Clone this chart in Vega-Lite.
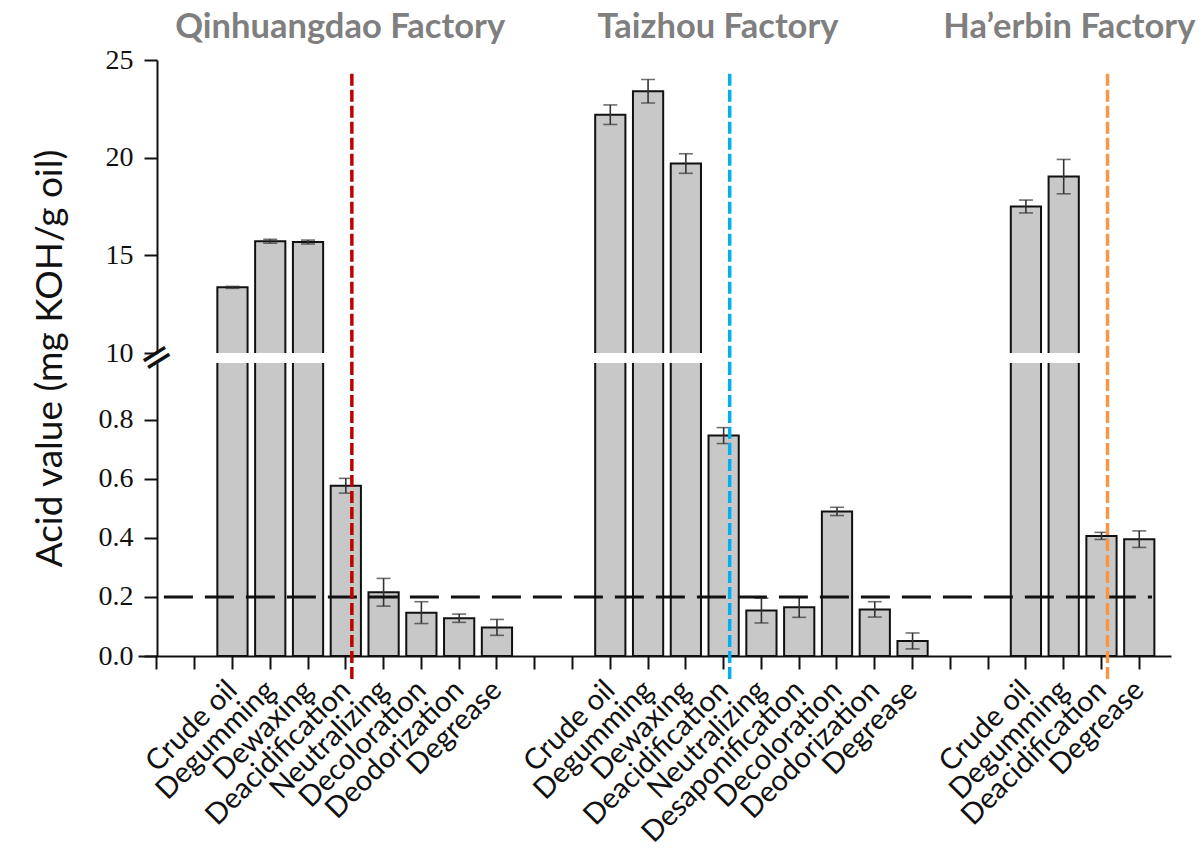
{
  "$schema": "https://vega.github.io/schema/vega-lite/v6.json",
  "padding": {"left": 30, "top": 9, "right": 5, "bottom": 5},
  "background": "white",
  "spacing": 10,
  "bounds": "flush",
  "config": {"view": {"stroke": null}, "font": "Lato"},
  "datasets": {
    "acid": [
      {"factory": "Qinhuangdao", "step": "Crude oil", "key": "Qinhuangdao|Crude oil", "value": 13.36, "err": 0.05},
      {"factory": "Qinhuangdao", "step": "Degumming", "key": "Qinhuangdao|Degumming", "value": 15.72, "err": 0.1},
      {"factory": "Qinhuangdao", "step": "Dewaxing", "key": "Qinhuangdao|Dewaxing", "value": 15.68, "err": 0.1},
      {"factory": "Qinhuangdao", "step": "Deacidification", "key": "Qinhuangdao|Deacidification", "value": 0.577, "err": 0.025},
      {"factory": "Qinhuangdao", "step": "Neutralizing", "key": "Qinhuangdao|Neutralizing", "value": 0.216, "err": 0.047},
      {"factory": "Qinhuangdao", "step": "Decoloration", "key": "Qinhuangdao|Decoloration", "value": 0.147, "err": 0.037},
      {"factory": "Qinhuangdao", "step": "Deodorization", "key": "Qinhuangdao|Deodorization", "value": 0.128, "err": 0.014},
      {"factory": "Qinhuangdao", "step": "Degrease", "key": "Qinhuangdao|Degrease", "value": 0.097, "err": 0.027},
      {"factory": "Taizhou", "step": "Crude oil", "key": "Taizhou|Crude oil", "value": 22.2, "err": 0.5},
      {"factory": "Taizhou", "step": "Degumming", "key": "Taizhou|Degumming", "value": 23.4, "err": 0.6},
      {"factory": "Taizhou", "step": "Dewaxing", "key": "Taizhou|Dewaxing", "value": 19.7, "err": 0.5},
      {"factory": "Taizhou", "step": "Deacidification", "key": "Taizhou|Deacidification", "value": 0.747, "err": 0.027},
      {"factory": "Taizhou", "step": "Neutralizing", "key": "Taizhou|Neutralizing", "value": 0.154, "err": 0.042},
      {"factory": "Taizhou", "step": "Desaponification", "key": "Taizhou|Desaponification", "value": 0.165, "err": 0.034},
      {"factory": "Taizhou", "step": "Decoloration", "key": "Taizhou|Decoloration", "value": 0.49, "err": 0.014},
      {"factory": "Taizhou", "step": "Deodorization", "key": "Taizhou|Deodorization", "value": 0.158, "err": 0.026},
      {"factory": "Taizhou", "step": "Degrease", "key": "Taizhou|Degrease", "value": 0.051, "err": 0.027},
      {"factory": "Ha'erbin", "step": "Crude oil", "key": "Ha'erbin|Crude oil", "value": 17.5, "err": 0.33},
      {"factory": "Ha'erbin", "step": "Degumming", "key": "Ha'erbin|Degumming", "value": 19.03, "err": 0.88},
      {"factory": "Ha'erbin", "step": "Deacidification", "key": "Ha'erbin|Deacidification", "value": 0.407, "err": 0.012},
      {"factory": "Ha'erbin", "step": "Degrease", "key": "Ha'erbin|Degrease", "value": 0.396, "err": 0.028}
    ],
    "dividers": [
      {"factory": "Qinhuangdao", "key": "Qinhuangdao|Deacidification"},
      {"factory": "Taizhou", "key": "Taizhou|Deacidification"},
      {"factory": "Ha'erbin", "key": "Ha'erbin|Deacidification"}
    ],
    "titles": [
      {"factory": "Qinhuangdao", "label": "Qinhuangdao Factory", "key": "Qinhuangdao|Deacidification"},
      {"factory": "Taizhou", "label": "Taizhou Factory", "key": "Taizhou|Deacidification"},
      {"factory": "Ha'erbin", "label": "Ha’erbin Factory", "key": "Ha'erbin|Degumming"}
    ],
    "threshold": [{"limit": 0.2}],
    "breakmark": [{"key": "gap0", "at": 1.01, "sym": "="}]
  },
  "vconcat": [
    {
      "width": 1033,
      "height": 293,
      "layer": [
        {
          "data": {"name": "acid"},
          "transform": [{"filter": "datum.value > 5"}],
          "mark": {"type": "bar", "fill": "#c8c8c8", "stroke": "#111111", "strokeWidth": 2, "width": {"band": 0.8}, "clip": true},
          "encoding": {
            "x": {"field": "key", "type": "nominal", "sort": null,
              "scale": {"domain": ["gap0","gap1","Qinhuangdao|Crude oil","Qinhuangdao|Degumming","Qinhuangdao|Dewaxing","Qinhuangdao|Deacidification","Qinhuangdao|Neutralizing","Qinhuangdao|Decoloration","Qinhuangdao|Deodorization","Qinhuangdao|Degrease","gap10","gap11","Taizhou|Crude oil","Taizhou|Degumming","Taizhou|Dewaxing","Taizhou|Deacidification","Taizhou|Neutralizing","Taizhou|Desaponification","Taizhou|Decoloration","Taizhou|Deodorization","Taizhou|Degrease","gap21","gap22","Ha'erbin|Crude oil","Ha'erbin|Degumming","Ha'erbin|Deacidification","Ha'erbin|Degrease"], "paddingInner": 0, "paddingOuter": 0.17, "align": 0},
              "axis": null},
            "y": {"field": "value", "type": "quantitative",
              "scale": {"domain": [10, 25], "zero": false, "nice": false},
              "axis": {"title": null, "values": [10, 15, 20, 25], "offset": -19, "grid": false,
                "labelFont": "Liberation Serif", "labelFontSize": 28, "labelColor": "#111111", "labelPadding": 11,
                "tickSize": 13, "tickWidth": 2, "tickColor": "#111111", "domainColor": "#111111", "domainWidth": 2}},
            "y2": {"datum": 9.5}
          }
        },
        {
          "data": {"name": "acid"},
          "transform": [{"filter": "datum.value > 5"}],
          "mark": {"type": "errorbar", "ticks": {"size": 14, "thickness": 1.6, "color": "#333333"}, "rule": {"strokeWidth": 1.6, "color": "#333333"}},
          "encoding": {
            "x": {"field": "key", "type": "nominal", "sort": null, "axis": null},
            "y": {"field": "value", "type": "quantitative", "title": null},
            "yError": {"field": "err"}
          }
        },
        {
          "data": {"name": "dividers"},
          "mark": {"type": "rule", "strokeWidth": 3.5, "strokeDash": [12, 4]},
          "encoding": {
            "x": {"field": "key", "type": "nominal", "sort": null, "bandPosition": 0.66, "axis": null},
            "y": {"datum": 24.3},
            "y2": {"datum": 9.49},
            "stroke": {"field": "factory", "type": "nominal", "legend": null,
              "scale": {"domain": ["Qinhuangdao", "Taizhou", "Ha'erbin"], "range": ["#c00000", "#00b0f0", "#f79646"]}}
          }
        },
        {
          "data": {"name": "titles"},
          "transform": [{"filter": "datum.factory !== \"Ha'erbin\""}],
          "mark": {"type": "text", "font": "Lato", "fontWeight": "bold", "fontSize": 34.5, "color": "#7f7f7f", "align": "center", "baseline": "alphabetic"},
          "encoding": {
            "x": {"field": "key", "type": "nominal", "sort": null, "bandPosition": 0.35, "axis": null},
            "y": {"datum": 26.13},
            "text": {"field": "label"}
          }
        },
        {
          "data": {"name": "titles"},
          "transform": [{"filter": "datum.factory === \"Ha'erbin\""}],
          "mark": {"type": "text", "font": "Lato", "fontWeight": "bold", "fontSize": 34.5, "color": "#7f7f7f", "align": "center", "baseline": "alphabetic"},
          "encoding": {
            "x": {"field": "key", "type": "nominal", "sort": null, "bandPosition": 0.65, "axis": null},
            "y": {"datum": 26.13},
            "text": {"field": "label"}
          }
        }
      ]
    },
    {
      "width": 1033,
      "height": 293,
      "layer": [
        {
          "data": {"name": "acid"},
          "mark": {"type": "bar", "fill": "#c8c8c8", "stroke": "#111111", "strokeWidth": 2, "width": {"band": 0.8}, "clip": true},
          "encoding": {
            "x": {"field": "key", "type": "nominal", "sort": null,
              "scale": {"domain": ["gap0","gap1","Qinhuangdao|Crude oil","Qinhuangdao|Degumming","Qinhuangdao|Dewaxing","Qinhuangdao|Deacidification","Qinhuangdao|Neutralizing","Qinhuangdao|Decoloration","Qinhuangdao|Deodorization","Qinhuangdao|Degrease","gap10","gap11","Taizhou|Crude oil","Taizhou|Degumming","Taizhou|Dewaxing","Taizhou|Deacidification","Taizhou|Neutralizing","Taizhou|Desaponification","Taizhou|Decoloration","Taizhou|Deodorization","Taizhou|Degrease","gap21","gap22","Ha'erbin|Crude oil","Ha'erbin|Degumming","Ha'erbin|Deacidification","Ha'erbin|Degrease"], "paddingInner": 0, "paddingOuter": 0.17, "align": 0},
              "axis": {"title": null, "labelExpr": "indexof(datum.value, '|') > 0 ? split(datum.value, '|')[1] : ''",
                "labelAngle": -45, "labelAlign": "right", "labelBaseline": "middle", "labelFont": "Lato", "labelFontSize": 29,
                "labelColor": "#111111", "labelPadding": 16, "labelOverlap": false, "labelLimit": 400, "labelBound": false,
                "tickSize": 13, "tickWidth": 2, "tickColor": "#111111", "domainColor": "#111111", "domainWidth": 2}},
            "y": {"field": "value", "type": "quantitative",
              "scale": {"domain": [0, 0.993], "nice": false},
              "axis": {"title": "Acid value (mg KOH/g oil)", "values": [0, 0.2, 0.4, 0.6, 0.8], "format": ".1f", "offset": -19, "grid": false,
                "labelFont": "Liberation Serif", "labelFontSize": 28, "labelColor": "#111111", "labelPadding": 11,
                "tickSize": 13, "tickWidth": 2, "tickColor": "#111111", "domainColor": "#111111", "domainWidth": 2,
                "titleFont": "Lato", "titleFontSize": 37, "titleFontWeight": "normal", "titleColor": "#111111",
                "titleAngle": -90, "titleAlign": "center", "titleBaseline": "middle", "titleX": -107, "titleY": -5}}
          }
        },
        {
          "data": {"name": "acid"},
          "transform": [{"filter": "datum.value < 1"}],
          "mark": {"type": "errorbar", "ticks": {"size": 14, "thickness": 1.6, "color": "#333333"}, "rule": {"strokeWidth": 1.6, "color": "#333333"}},
          "encoding": {
            "x": {"field": "key", "type": "nominal", "sort": null},
            "y": {"field": "value", "type": "quantitative", "title": "Acid value (mg KOH/g oil)"},
            "yError": {"field": "err"}
          }
        },
        {
          "data": {"name": "threshold"},
          "mark": {"type": "rule", "stroke": "#111111", "strokeWidth": 3, "strokeDash": [29, 12], "strokeDashOffset": 34, "x2Offset": -19},
          "encoding": {
            "x": {"datum": "gap0"},
            "x2": {"value": "width"},
            "y": {"field": "limit", "type": "quantitative", "title": "Acid value (mg KOH/g oil)"}
          }
        },
        {
          "data": {"name": "dividers"},
          "mark": {"type": "rule", "strokeWidth": 3.5, "strokeDash": [12, 4]},
          "encoding": {
            "x": {"field": "key", "type": "nominal", "sort": null, "bandPosition": 0.66},
            "y": {"datum": 0.993},
            "y2": {"datum": -0.081},
            "stroke": {"field": "factory", "type": "nominal", "legend": null,
              "scale": {"domain": ["Qinhuangdao", "Taizhou", "Ha'erbin"], "range": ["#c00000", "#00b0f0", "#f79646"]}}
          }
        },
        {
          "data": {"name": "breakmark"},
          "mark": {"type": "text", "font": "DejaVu Sans", "fontSize": 40, "angle": -32, "align": "center", "baseline": "middle", "color": "#111111"},
          "encoding": {
            "x": {"field": "key", "type": "nominal", "sort": null},
            "y": {"field": "at", "type": "quantitative", "title": "Acid value (mg KOH/g oil)"},
            "text": {"field": "sym"}
          }
        }
      ]
    }
  ]
}
